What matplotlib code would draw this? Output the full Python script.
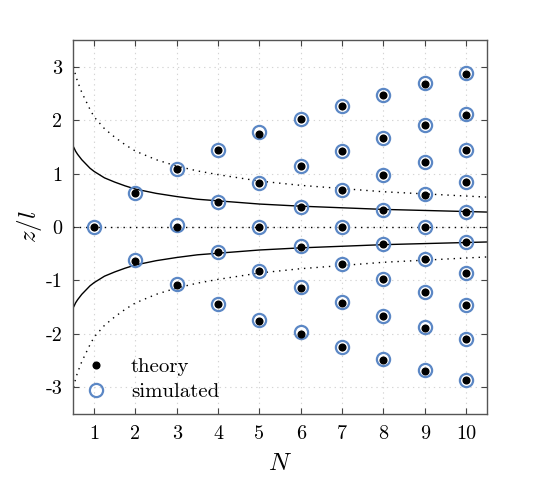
import matplotlib
matplotlib.use("Agg")
import matplotlib.pyplot as plt

plt.rcParams['font.family'] = ['cmr10', 'DejaVu Serif']
plt.rcParams['mathtext.fontset'] = 'cm'
plt.rcParams['axes.unicode_minus'] = False

# number of particles
N_values = [1, 2, 3, 4, 5, 6, 7, 8, 9, 10]

# theory positions z/l for each N
theory_z = [
    [0.0],
    [0.63, -0.63],
    [1.08, 0.0, -1.08],
    [1.44, 0.46, -0.46, -1.44],
    [1.75, 0.82, 0.0, -0.82, -1.75],
    [2.02, 1.14, 0.37, -0.37, -1.14, -2.01],
    [2.26, 1.42, 0.69, 0.0, -0.69, -1.42, -2.25],
    [2.47, 1.66, 0.97, 0.32, -0.32, -0.97, -1.67, -2.48],
    [2.68, 1.90, 1.22, 0.60, 0.0, -0.60, -1.22, -1.89, -2.69],
    [2.87, 2.10, 1.45, 0.85, 0.29, -0.28, -0.86, -1.45, -2.10, -2.87],
]

# simulated positions
sim_z = [
    [0.0],
    [0.64, -0.62],
    [1.09, 0.04, -1.07],
    [1.44, 0.46, -0.46, -1.44],
    [1.77, 0.82, 0.0, -0.82, -1.74],
    [2.03, 1.15, 0.37, -0.36, -1.13, -1.97],
    [2.27, 1.42, 0.70, 0.0, -0.69, -1.41, -2.25],
    [2.48, 1.67, 0.97, 0.32, -0.32, -0.97, -1.66, -2.47],
    [2.69, 1.91, 1.22, 0.61, 0.0, -0.60, -1.22, -1.88, -2.68],
    [2.88, 2.11, 1.45, 0.85, 0.29, -0.28, -0.86, -1.45, -2.10, -2.86],
]

# envelope curves
curve_N = [0.5, 0.52, 0.55, 0.6, 0.65, 0.7, 0.8, 0.9, 1.0, 1.25, 1.5, 1.75, 2.0, 2.5, 3.0,
           3.5, 4.0, 5.0, 6.0, 7.0, 8.0, 9.0, 10.0, 10.5]
solid_z = [1.50, 1.47, 1.42, 1.36, 1.31, 1.26, 1.18, 1.10, 1.04, 0.92, 0.84, 0.77, 0.71,
           0.63, 0.57, 0.52, 0.49, 0.43, 0.39, 0.36, 0.33, 0.31, 0.29, 0.28]
dotted_z = [3.00, 2.94, 2.84, 2.72, 2.62, 2.52, 2.36, 2.20, 2.06, 1.84, 1.68, 1.54, 1.42,
            1.26, 1.14, 1.05, 0.98, 0.86, 0.78, 0.72, 0.66, 0.62, 0.58, 0.56]

blue = '#5b87c5'

fig = plt.figure(figsize=(5.42, 4.82), dpi=100)
ax = fig.add_axes([0.1356, 0.141, 0.7624, 0.776])

ax.grid(True, linestyle=(0, (1.2, 3.5)), color='#d4d4d4', linewidth=0.8)
ax.set_axisbelow(True)

ax.plot(curve_N, solid_z, color='black', linewidth=1.0)
ax.plot(curve_N, [-v for v in solid_z], color='black', linewidth=1.0)
ax.plot(curve_N, dotted_z, color='black', linewidth=1.0, linestyle=(0, (1, 3.5)))
ax.plot(curve_N, [-v for v in dotted_z], color='black', linewidth=1.0, linestyle=(0, (1, 3.5)))
ax.axhline(0, color='black', linewidth=1.0, linestyle=(0, (1, 3.5)))

for n, zs in zip(N_values, sim_z):
    ax.plot([n] * len(zs), zs, linestyle='none', marker='o', markersize=9.5,
            markerfacecolor='none', markeredgecolor=blue, markeredgewidth=1.6)
for n, zs in zip(N_values, theory_z):
    ax.plot([n] * len(zs), zs, linestyle='none', marker='o', markersize=4.8,
            color='black')

h1, = ax.plot([], [], linestyle='none', marker='o', markersize=4.8, color='black')
h2, = ax.plot([], [], linestyle='none', marker='o', markersize=9.5,
              markerfacecolor='none', markeredgecolor=blue, markeredgewidth=1.6)
ax.legend([h1, h2], ['theory', 'simulated'], loc='lower left', frameon=False,
          fontsize=15, handlelength=1.0, handletextpad=1.2,
          bbox_to_anchor=(-0.017, -0.016), labelspacing=0.3)

ax.set_xlim(0.5, 10.5)
ax.set_ylim(-3.5, 3.5)
ax.set_xticks(N_values)
ax.set_xticklabels([str(n) for n in N_values])
yt = [-3, -2, -1, 0, 1, 2, 3]
ax.set_yticks(yt)
ax.set_yticklabels([str(v) for v in yt])
ax.tick_params(direction='in', top=True, right=True, length=4, width=0.8,
               color='#444444', labelsize=14.5, pad=8)
for s in ax.spines.values():
    s.set_color('#555555')
    s.set_linewidth(1.0)

ax.set_xlabel('$N$', fontsize=18, labelpad=7)
ax.set_ylabel('$z/l$', fontsize=18, labelpad=1)

fig.savefig('out.png', dpi=100)
